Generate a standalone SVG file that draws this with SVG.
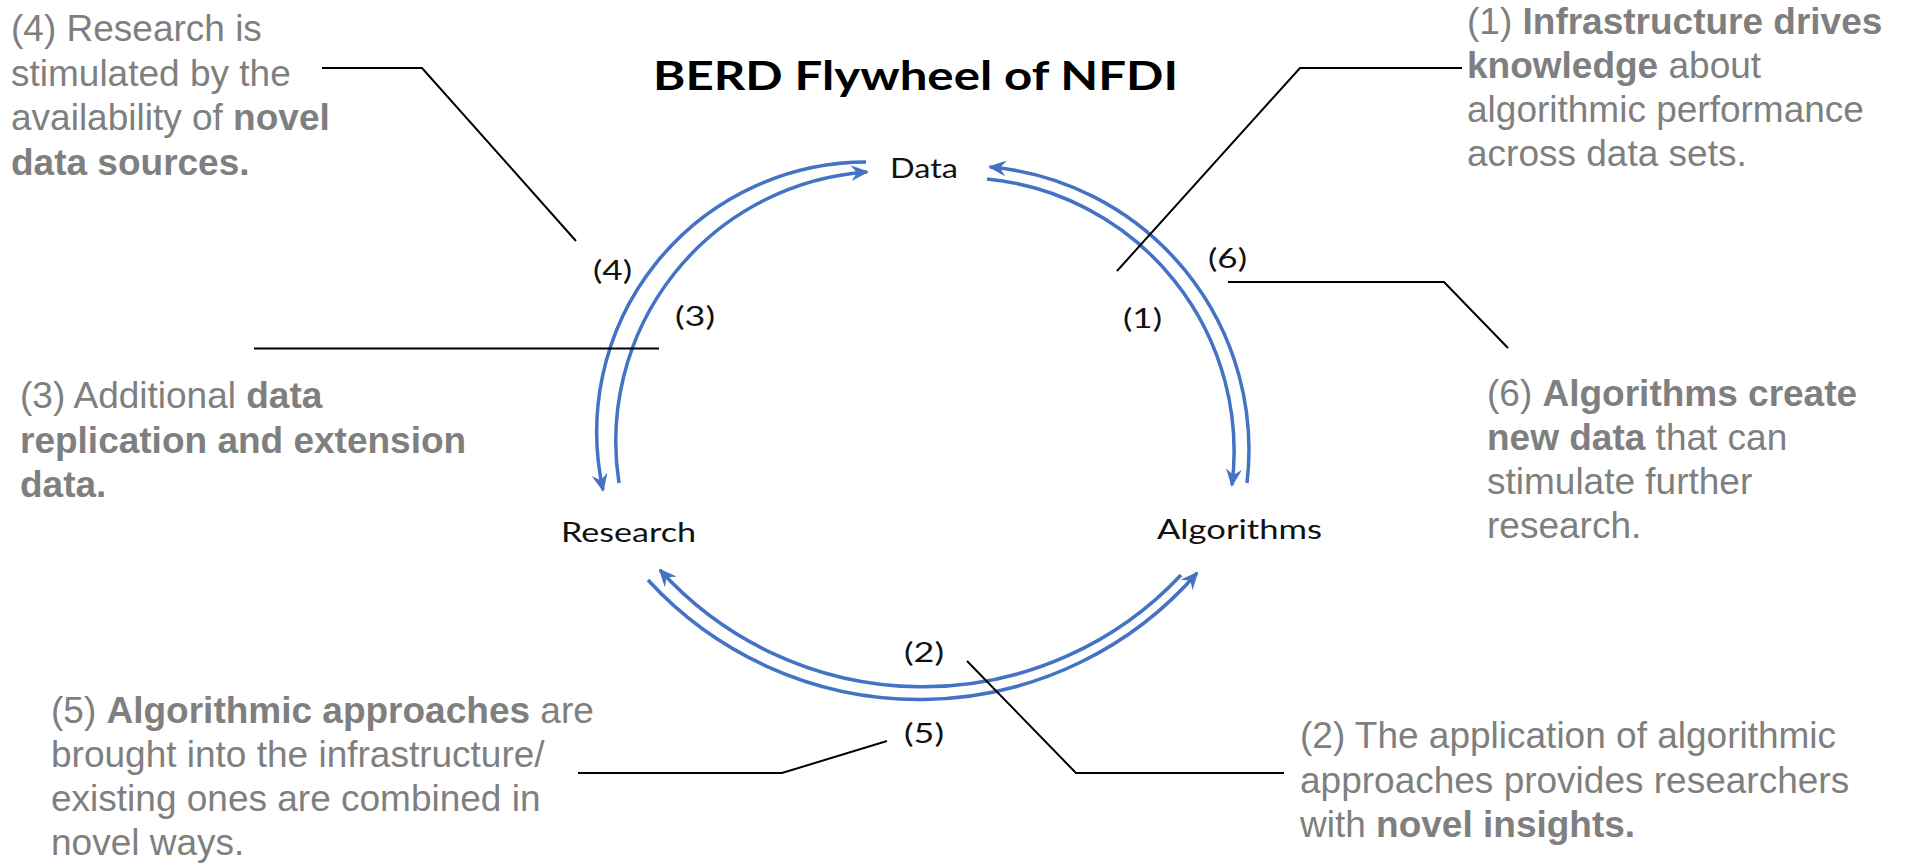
<svg xmlns="http://www.w3.org/2000/svg" width="1920" height="866" viewBox="0 0 1920 866">
<style>
.note{font-family:"Liberation Sans",Arial,sans-serif;font-size:37px;fill:#7f7f7f}
.b{font-weight:bold}
.lbl{font-family:Lato,"Open Sans",sans-serif;font-size:27px;fill:#111}
.ttl{font-family:Lato,"Open Sans",sans-serif;font-size:41px;font-weight:bold;fill:#000}
.arc{fill:none;stroke:#4472C4;stroke-width:3.5}
.lead{fill:none;stroke:#000;stroke-width:2}
</style>
<defs>
<marker id="ah" viewBox="0 0 18 16" refX="16" refY="8" markerWidth="18" markerHeight="16" markerUnits="userSpaceOnUse" orient="auto">
<path d="M0,0 L18,8 L0,16 L6,8 z" fill="#4472C4"/>
</marker>
</defs>
<rect width="1920" height="866" fill="#fff"/>

<g id="title"><text class="ttl" x="653" y="90" textLength="525" lengthAdjust="spacingAndGlyphs">BERD Flywheel of NFDI</text></g>

<g id="node-data"><text class="lbl" x="890" y="178" textLength="68" lengthAdjust="spacingAndGlyphs">Data</text></g>
<g id="node-research"><text class="lbl" x="561" y="542" textLength="135" lengthAdjust="spacingAndGlyphs">Research</text></g>
<g id="node-algorithms"><text class="lbl" x="1157" y="539" textLength="165" lengthAdjust="spacingAndGlyphs">Algorithms</text></g>

<g id="connectors">
<path id="arc4" class="arc" d="M866,162 A270,270 0 0 0 603,490" marker-end="url(#ah)"/>
<path id="arc3" class="arc" d="M619,483 A270,270 0 0 1 867,172" marker-end="url(#ah)"/>
<path id="arc6" class="arc" d="M1247,483 A284,284 0 0 0 990,167" marker-end="url(#ah)"/>
<path id="arc1" class="arc" d="M987,179 A273.5,273.5 0 0 1 1232,485" marker-end="url(#ah)"/>
<path id="arc2" class="arc" d="M1181,575 A354,354 0 0 1 660,570" marker-end="url(#ah)"/>
<path id="arc5" class="arc" d="M648,580 A368,368 0 0 0 1197,573" marker-end="url(#ah)"/>
</g>

<g id="arc-labels">
<text class="lbl" x="593" y="280" textLength="39" lengthAdjust="spacingAndGlyphs">(4)</text>
<text class="lbl" x="675" y="326" textLength="40" lengthAdjust="spacingAndGlyphs">(3)</text>
<text class="lbl" x="1208" y="268" textLength="39" lengthAdjust="spacingAndGlyphs">(6)</text>
<text class="lbl" x="1123" y="328" textLength="39" lengthAdjust="spacingAndGlyphs">(1)</text>
<text class="lbl" x="904" y="662" textLength="40" lengthAdjust="spacingAndGlyphs">(2)</text>
<text class="lbl" x="904" y="743" textLength="40" lengthAdjust="spacingAndGlyphs">(5)</text>
</g>

<g id="leaders">
<path class="lead" d="M322,68 H422 L576,241"/>
<path class="lead" d="M254,348.5 H659"/>
<path class="lead" d="M1117,271 L1300,68 H1462"/>
<path class="lead" d="M1228,282 H1444 L1508,348"/>
<path class="lead" d="M578,773 H782 L887,741"/>
<path class="lead" d="M967,661 L1076,773 H1284"/>
</g>

<g id="note4">
<text class="note" x="11" y="41">(4) Research is</text>
<text class="note" x="11" y="85.5">stimulated by the</text>
<text class="note" x="11" y="130">availability of <tspan class="b">novel</tspan></text>
<text class="note b" x="11" y="174.5">data sources.</text>
</g>
<g id="note1">
<text class="note" x="1467" y="34">(1) <tspan class="b">Infrastructure drives</tspan></text>
<text class="note" x="1467" y="78"><tspan class="b">knowledge</tspan> about</text>
<text class="note" x="1467" y="122">algorithmic performance</text>
<text class="note" x="1467" y="166">across data sets.</text>
</g>
<g id="note3">
<text class="note" x="20" y="408">(3) Additional <tspan class="b">data</tspan></text>
<text class="note b" x="20" y="453">replication and extension</text>
<text class="note b" x="20" y="497">data.</text>
</g>
<g id="note6">
<text class="note" x="1487" y="406">(6) <tspan class="b">Algorithms create</tspan></text>
<text class="note" x="1487" y="450"><tspan class="b">new data</tspan> that can</text>
<text class="note" x="1487" y="494">stimulate further</text>
<text class="note" x="1487" y="538">research.</text>
</g>
<g id="note5">
<text class="note" x="51" y="723">(5) <tspan class="b">Algorithmic approaches</tspan> are</text>
<text class="note" x="51" y="767">brought into the infrastructure/</text>
<text class="note" x="51" y="811">existing ones are combined in</text>
<text class="note" x="51" y="855">novel ways.</text>
</g>
<g id="note2">
<text class="note" x="1300" y="748">(2) The application of algorithmic</text>
<text class="note" x="1300" y="793">approaches provides researchers</text>
<text class="note" x="1300" y="837">with <tspan class="b">novel insights.</tspan></text>
</g>
</svg>
